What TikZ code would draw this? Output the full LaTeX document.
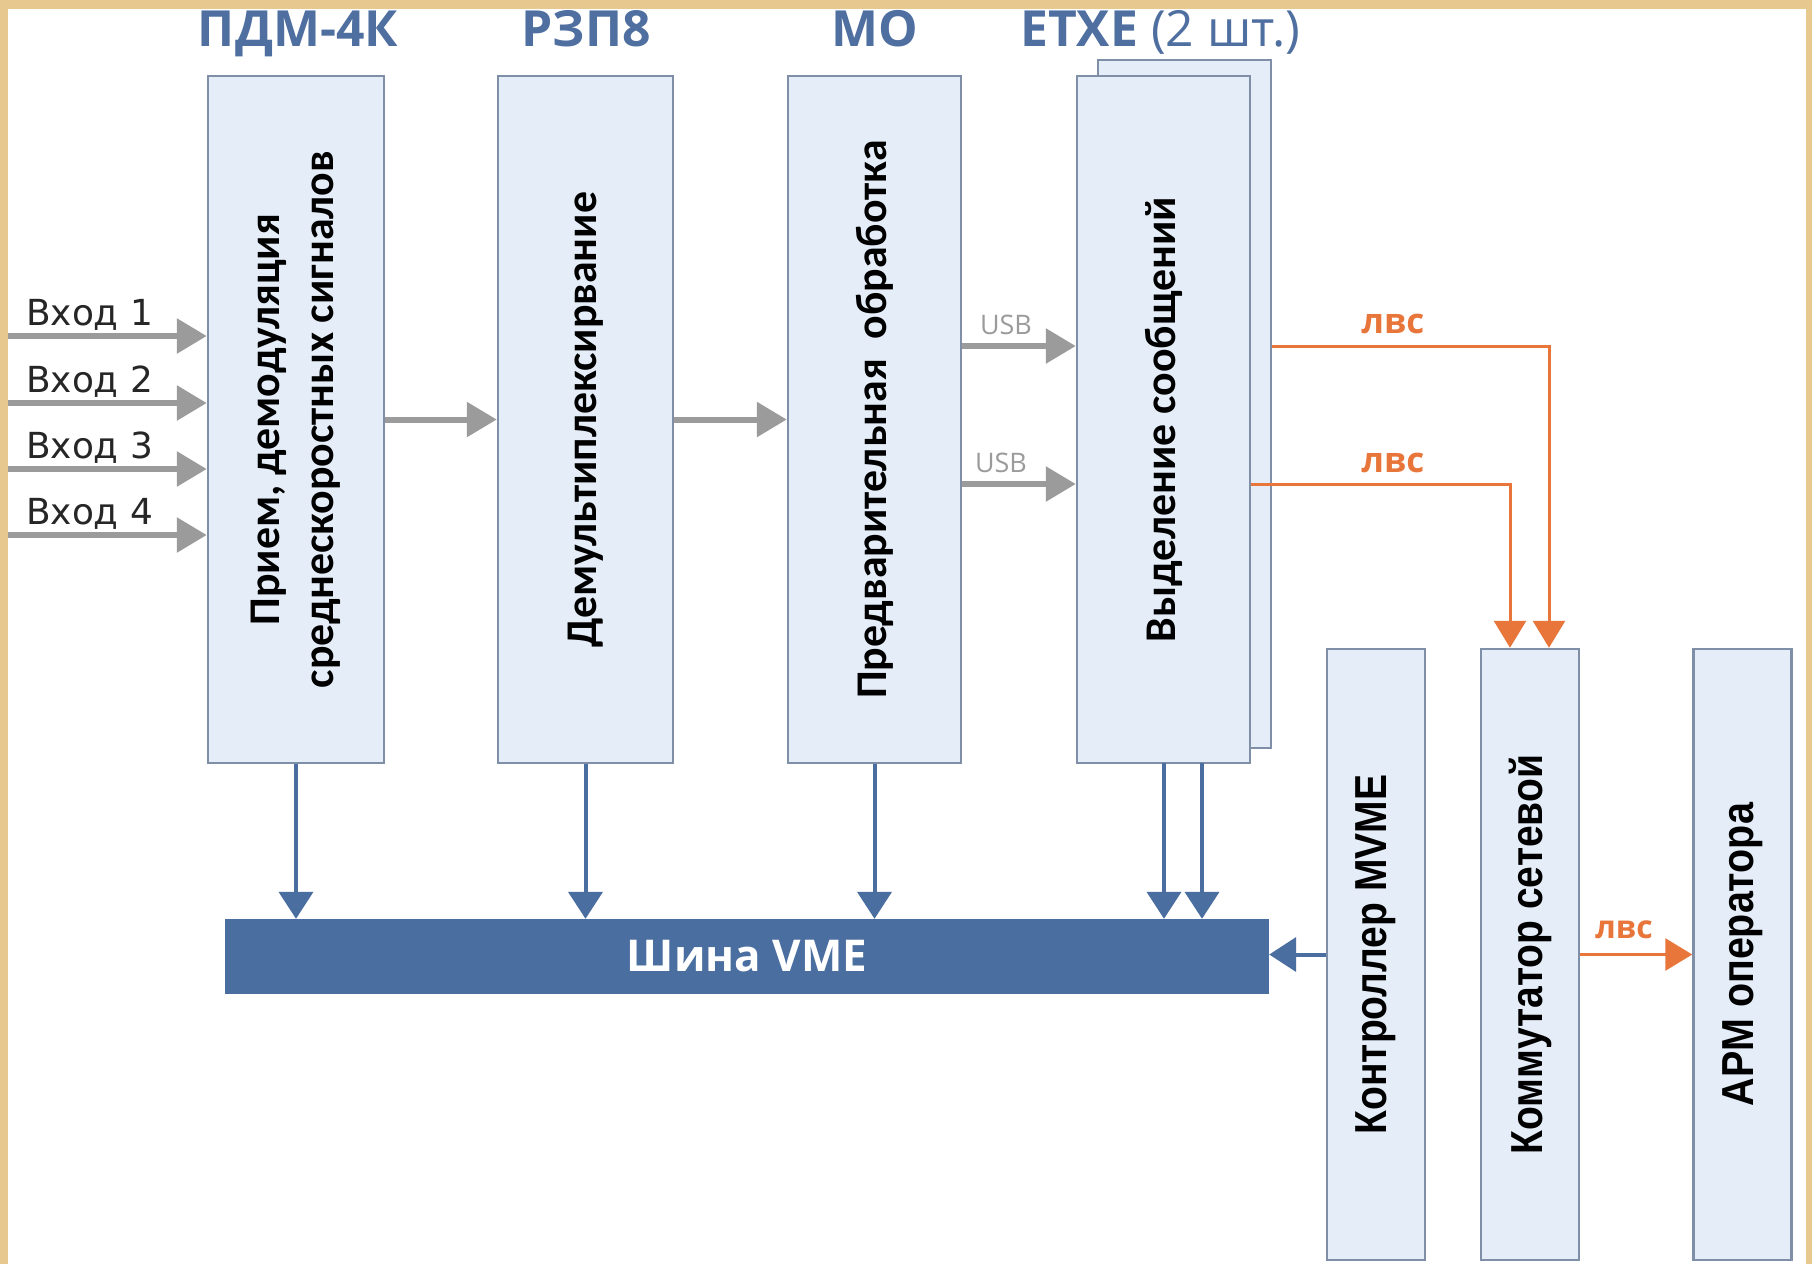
\documentclass[tikz,border=0pt]{standalone}
\usepackage{fontspec}
\setmainfont{Open Sans}
\newfontfamily\boxfont{Carlito}
\newfontfamily\inputfont{DejaVu Sans}
\newfontfamily\narrowfont{Liberation Sans}
\usetikzlibrary{arrows.meta}
\definecolor{frame}{HTML}{E7C88E}
\definecolor{boxfill}{HTML}{E4EDF8}
\definecolor{boxdraw}{HTML}{7F8FA8}
\definecolor{titleblue}{HTML}{4F6FA0}
\definecolor{busblue}{HTML}{4A6E9F}
\definecolor{arrgray}{HTML}{9B9B9B}
\definecolor{lanorange}{HTML}{E8763A}
\tikzset{
  blockbox/.style={draw=boxdraw, fill=boxfill, line width=2.5bp, inner sep=0pt},
  vtext/.style={rotate=90, align=center, text=black, inner sep=0pt},
  lefttext/.style={vtext, font=\boxfont\bfseries\fontsize{44}{54}\selectfont},
  righttext/.style={vtext, font=\narrowfont\bfseries\fontsize{45}{50}\selectfont},
  titletext/.style={text=titleblue, font=\bfseries\fontsize{50}{54}\selectfont, inner sep=0pt, anchor=base},
  grayarrow/.style={draw=arrgray, line width=6bp, -{Triangle[length=30bp,width=34bp]}},
  bluearrow/.style={draw=busblue, line width=4bp, -{Triangle[length=27bp,width=34bp]}},
  lanarrow/.style={draw=lanorange, line width=3bp, -{Triangle[length=27bp,width=32bp]}},
  inlabel/.style={text=black!85, font=\inputfont\fontsize{36}{40}\selectfont, anchor=south west, inner sep=0pt},
  usblabel/.style={text=arrgray, font=\fontsize{27}{30}\selectfont, inner sep=0pt},
  lanlabel/.style={text=lanorange, font=\bfseries\fontsize{35}{38}\selectfont, inner sep=0pt},
}
\begin{document}
\begin{tikzpicture}[x=1bp, y=-1bp]
\useasboundingbox (0,0) rectangle (1812,1264);
\fill[frame] (0,0) rectangle (1812,1264);
\fill[white] (8,9) rectangle (1806,1264);

% titles
\node[titletext] (t1) at (298,46) {ПДМ-4К};
\node[titletext] (t2) at (586,46) {РЗП8};
\node[titletext] (t3) at (875,46) {МО};
\node[titletext, anchor=base west] (t4) at (1020,46) {ЕТХЕ \mdseries(2 шт.)};

% main blocks
\node[blockbox, minimum width=176bp, minimum height=687bp] (b1) at (296,419.5) {};
\node[blockbox, minimum width=175bp, minimum height=687bp] (b2) at (585.5,419.5) {};
\node[blockbox, minimum width=173bp, minimum height=687bp] (b3) at (874.5,419.5) {};
\node[blockbox, minimum width=173bp, minimum height=688bp] (b4back) at (1184.5,404) {};
\node[blockbox, minimum width=173bp, minimum height=687bp] (b4) at (1163.5,419.5) {};

\node[lefttext] (l1) at (b1.center) {Прием, демодуляция\\среднескоростных сигналов};
\node[lefttext] (l2) at (b2.center) {Демультиплексирвание};
\node[lefttext] (l3) at (b3.center) {Предварительная \ обработка};
\node[lefttext] (l4) at (b4.center) {Выделение сообщений};

% bus
\node[fill=busblue, minimum width=1044bp, minimum height=75bp, inner sep=0pt,
      text=white, font=\bfseries\fontsize{44}{48}\selectfont] (bus) at (747,956.5) {Шина VME};

% bottom right blocks
\node[blockbox, minimum width=98bp, minimum height=611bp] (ctl) at (1376,954.5) {};
\node[blockbox, minimum width=98bp, minimum height=611bp] (sw) at (1530,954.5) {};
\node[blockbox, minimum width=98bp, minimum height=611bp] (arm) at (1742.5,954.5) {};
\node[righttext] (lc) at (ctl.center) {\scalebox{0.87}[1]{Контроллер MVME}};
\node[righttext] (ls) at (sw.center) {\scalebox{0.87}[1]{Коммутатор сетевой}};
\node[righttext] (la) at (arm.center) {\scalebox{0.88}[1]{АРМ оператора}};

% inputs
\foreach \i/\y in {1/336,2/403,3/469,4/535}{
  \coordinate (in\i) at (8,\y);
  \draw[grayarrow] (in\i) -- (in\i -| b1.west);
  \node[inlabel] (inl\i) at (26,\y-5) {Вход \i};
}

% chain
\draw[grayarrow] (b1.east) -- (b2.west);
\draw[grayarrow] (b2.east) -- (b3.west);
\coordinate (u1) at (0,346);
\coordinate (u2) at (0,484);
\draw[grayarrow] (b3.east |- u1) -- (b4.west |- u1);
\draw[grayarrow] (b3.east |- u2) -- (b4.west |- u2);
\node[usblabel] (usb1) at (1006,325) {USB};
\node[usblabel] (usb2) at (1001,463) {USB};

% LAN
\coordinate (sw1) at ([xshift=19bp]sw.north);
\coordinate (sw2) at ([xshift=-20bp]sw.north);
\draw[lanarrow] (b4back.east |- u1) -| (sw1);
\draw[lanarrow] (b4.east |- u2) -| (sw2);
\node[lanlabel] (lan1) at (1393,324) {лвс};
\node[lanlabel] (lan2) at (1393,463) {лвс};
\draw[lanarrow] (sw.east) -- (arm.west);
\node[lanlabel, font=\bfseries\fontsize{32}{34}\selectfont] (lan3) at (1624,930) {лвс};

% to bus
\draw[bluearrow] (b1.south) -- (b1.south |- bus.north);
\draw[bluearrow] (b2.south) -- (b2.south |- bus.north);
\draw[bluearrow] (b3.south) -- (b3.south |- bus.north);
\coordinate (e1) at (1164,763);
\coordinate (e2) at (1202,763);
\draw[bluearrow] (e1) -- (e1 |- bus.north);
\draw[bluearrow] (e2) -- (e2 |- bus.north);
\draw[bluearrow] (ctl.west) -- (ctl.west -| bus.east);
\end{tikzpicture}
\end{document}
